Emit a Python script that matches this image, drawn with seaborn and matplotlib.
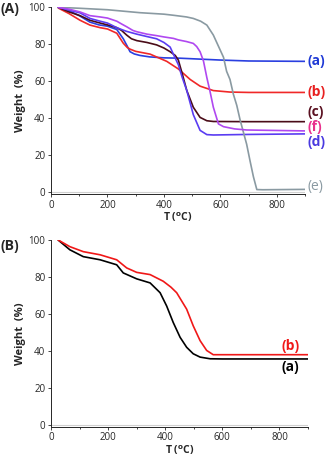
import matplotlib
matplotlib.use('Agg')
import matplotlib.pyplot as plt
import seaborn as sns
import pandas as pd
from matplotlib.ticker import MultipleLocator

# panel A: TGA curves (temperature in C, weight in %)
t_a = [25, 60, 100, 138, 170, 200, 233, 256, 270, 280, 295, 315, 350, 400, 457, 500, 600, 700, 900]
w_a = [100, 98.5, 95.5, 92, 90.5, 89.8, 88, 83, 79, 76, 74.8, 74, 73.2, 72.7, 72.5, 72.2, 71.5, 71, 70.8]

t_b = [26, 64, 103, 138, 174, 200, 233, 256, 270, 280, 300, 351, 410, 451, 493, 528, 575, 634, 700, 900]
w_b = [99.6, 96.6, 93, 90.4, 89, 88.3, 86, 80.6, 78.3, 77.4, 76.2, 74.7, 70.8, 66.7, 61, 57.4, 55, 54.2, 54, 54]

t_c = [26, 64, 103, 138, 174, 200, 233, 250, 268, 285, 304, 340, 374, 400, 422, 440, 451, 465, 481, 504, 528, 552, 575, 700, 900]
w_c = [100, 97.5, 95.5, 93, 91.5, 90.5, 89, 87.5, 85, 83, 82, 81, 79.7, 78, 76, 74, 71.5, 64, 55, 46, 40.5, 38.7, 38.3, 38.2, 38.2]

t_d = [26, 64, 103, 138, 174, 200, 233, 250, 268, 304, 340, 374, 400, 422, 434, 451, 465, 481, 504, 528, 552, 575, 700, 900]
w_d = [100, 98.5, 97, 94, 92.5, 91.5, 89, 88, 87, 85.5, 84.2, 83, 81, 78.5, 74.5, 69, 62, 55, 42, 33.5, 31.2, 31, 31.3, 31.6]

t_e = [25, 100, 200, 315, 400, 434, 480, 504, 530, 552, 575, 590, 599, 611, 622, 634, 646, 658, 670, 693, 705, 717, 729, 750, 900]
w_e = [100, 99.5, 98.7, 97.1, 96.3, 95.7, 94.8, 94, 92.5, 90.4, 85, 80, 77, 73, 65.4, 61, 53, 47, 39, 26, 17, 8.4, 1.5, 1.4, 1.6]

t_f = [26, 64, 103, 138, 174, 200, 233, 250, 268, 290, 304, 340, 374, 400, 434, 451, 480, 504, 516, 528, 540, 552, 563, 575, 593, 611, 650, 693, 900]
w_f = [100, 99, 97.5, 95.5, 94.8, 94.2, 92.5, 91, 89.5, 87.5, 86.8, 85.5, 84.7, 84, 83.2, 82.4, 81.5, 80.5, 78.8, 76, 71, 62, 54.7, 46, 37, 35.5, 34.3, 33.7, 33.2]

# panel B
t_ba = [25, 66, 113, 172, 230, 253, 300, 347, 382, 405, 428, 452, 475, 498, 522, 557, 600, 900]
w_ba = [100, 94.7, 91, 89.3, 86.6, 82.2, 79, 76.8, 71.5, 64.3, 55.4, 47.4, 42, 38.5, 36.7, 35.8, 35.7, 35.7]
t_bb = [25, 66, 113, 172, 230, 265, 300, 347, 393, 420, 440, 475, 498, 522, 545, 568, 600, 900]
w_bb = [100, 96.4, 93.7, 92, 89.3, 84.9, 82.5, 81.3, 77.7, 74.5, 71.5, 62.6, 53.6, 45.6, 40.3, 38, 38, 38]

# name, T, W, line colour, label colour, label y, label weight
curves_a = [
    ('(a)', t_a, w_a, '#2a3fe0', '#1f3ad6', 71, 'bold'),
    ('(b)', t_b, w_b, '#f02828', '#e82020', 54.2, 'bold'),
    ('(c)', t_c, w_c, '#4a0c18', '#5a1020', 43.5, 'bold'),
    ('(d)', t_d, w_d, '#5a3cf2', '#4a3ae0', 27, 'bold'),
    ('(e)', t_e, w_e, '#8a9aa2', '#8a9aa2', 3, 'normal'),
    ('(f)', t_f, w_f, '#b048f0', '#e8308c', 35.5, 'bold'),
]
curves_b = [
    ('(a)', t_ba, w_ba, '#000000', 31.4),
    ('(b)', t_bb, w_bb, '#f01818', 42.6),
]

sns.set_style('ticks')
plt.rcParams['font.family'] = ['Open Sans', 'DejaVu Sans']

fig = plt.figure(figsize=(3.27, 4.58), dpi=100)
ax1 = fig.add_axes([0.156, 0.576, 0.777, 0.408])
ax2 = fig.add_axes([0.156, 0.068, 0.786, 0.408])


def style_axis(ax):
    ax.set_xlim(0, 900)
    ax.set_ylim(-1, 100)
    ax.axhline(0, color='#d0d0d0', lw=0.8, zorder=0)
    ax.xaxis.set_minor_locator(MultipleLocator(100))
    ax.yaxis.set_major_locator(MultipleLocator(20))
    ax.set_xticks([0, 200, 400, 600, 800])
    ax.tick_params(labelsize=7, length=2.5, width=0.6, pad=1.5)
    ax.tick_params(which='minor', length=1.5, width=0.6)
    for s in ['top', 'right']:
        ax.spines[s].set_visible(False)
    for s in ['left', 'bottom']:
        ax.spines[s].set_linewidth(0.7)
    ax.set_xlabel(r'T ($\mathbf{^o}$C)', fontsize=7.5, fontweight='bold', labelpad=0)
    ax.set_ylabel('Weight  (%)', fontsize=8, fontweight='bold', labelpad=2)


for name, t, w, lc, tc, ylab, fw in curves_a:
    df = pd.DataFrame({'T': t, 'W': w})
    sns.lineplot(data=df, x='T', y='W', ax=ax1, color=lc, lw=1.2)
    ax1.text(910, ylab, name, color=tc, fontsize=10, fontweight=fw,
             va='center', ha='left', clip_on=False)

for name, t, w, lc, ylab in curves_b:
    df = pd.DataFrame({'T': t, 'W': w})
    sns.lineplot(data=df, x='T', y='W', ax=ax2, color=lc, lw=1.2)
    ax2.text(808, ylab, name, color=lc, fontsize=10, fontweight='bold',
             va='center', ha='left')

style_axis(ax1)
style_axis(ax2)

fig.text(0.003, 0.995, '(A)', fontsize=10, fontweight='bold', va='top', ha='left')
fig.text(0.003, 0.478, '(B)', fontsize=10, fontweight='bold', va='top', ha='left')

fig.savefig('out.png', dpi=100)
